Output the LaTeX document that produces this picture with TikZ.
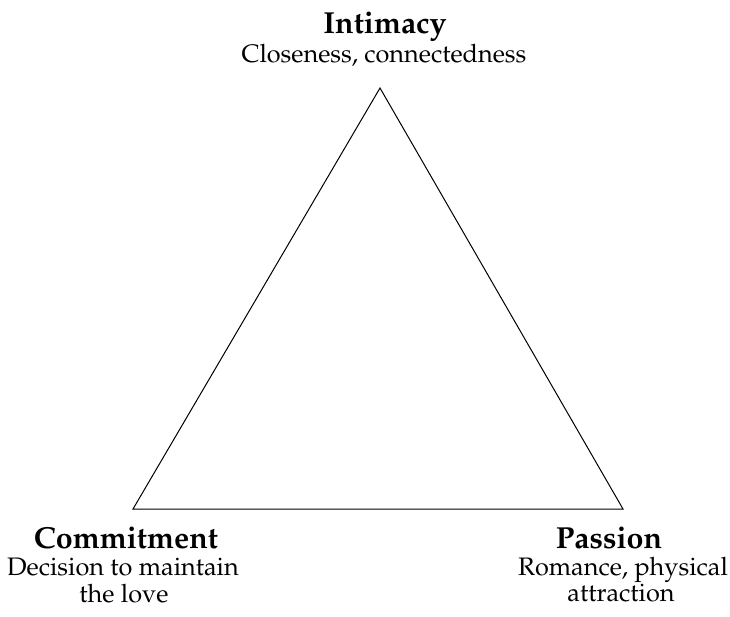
\documentclass[tikz,border=0pt]{standalone}
\usepackage[T1]{fontenc}
\usepackage{palatino}
\begin{document}
\begin{tikzpicture}[x=1pt,y=-1pt,
  title/.style={anchor=base,inner sep=0pt,font=\fontsize{30.4}{36}\selectfont\bfseries},
  desc/.style={anchor=base,inner sep=0pt,font=\fontsize{25.3}{30}\selectfont},
  tri/.style={draw=black,line width=1pt,line join=miter}]
\useasboundingbox (0,0) rectangle (730,616);
\coordinate (A) at (380,88);
\coordinate (L) at (133,509);
\coordinate (R) at (623,509);
\draw[tri] (A) -- (R) -- (L) -- cycle;
\node[title] (int) at (385,33) {Intimacy};
\node[desc] (intd) at (384,62) {Closeness, connectedness};
\node[title] (com) at (126,548) {Commitment};
\node[desc] (comd1) at (123,575) {Decision to maintain};
\node[desc] (comd2) at (124,602) {the love};
\node[title] (pas) at (609,548) {Passion};
\node[desc] (pasd1) at (623,575) {Romance, physical};
\node[desc] (pasd2) at (621,601) {attraction};
\end{tikzpicture}
\end{document}
